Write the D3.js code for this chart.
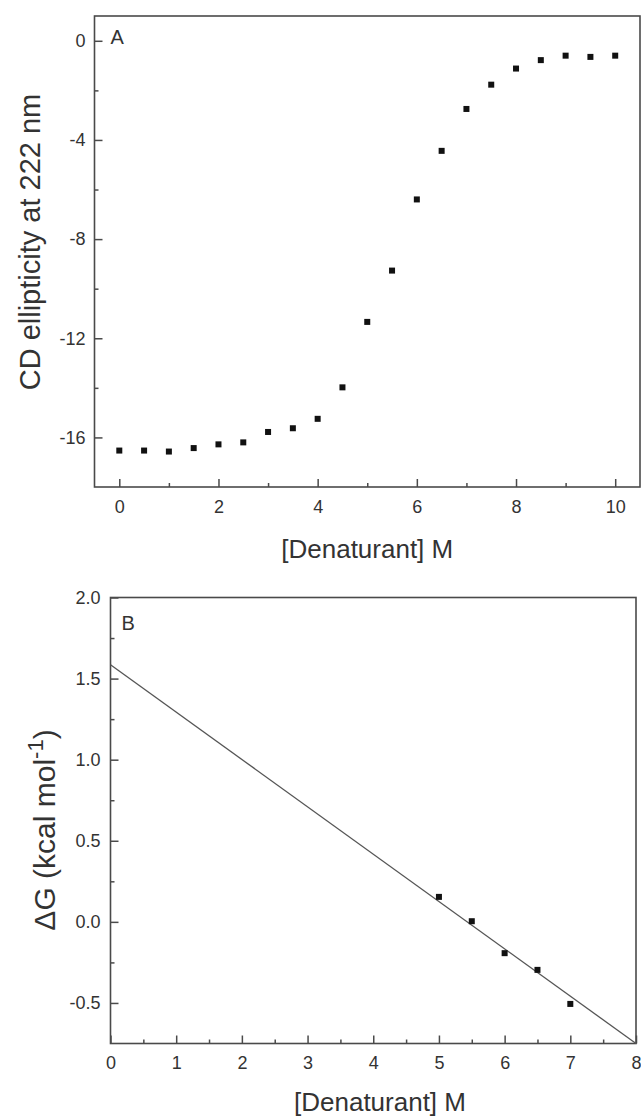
<!DOCTYPE html>
<html>
<head>
<meta charset="utf-8">
<script src="https://cdn.jsdelivr.net/npm/d3@7"></script>
<style>
  html, body { margin: 0; padding: 0; background: #fff; }
  svg { display: block; font-family: "Liberation Sans", Arial, sans-serif; }
</style>
</head>
<body>
<div id="chart"></div>
<script>
// panel A: denaturation curve
const aConc = [0, 0.5, 1, 1.5, 2, 2.5, 3, 3.5, 4, 4.5, 5, 5.5, 6, 6.5, 7, 7.5, 8, 8.5, 9, 9.5, 10];
const aEllip = [-16.53, -16.53, -16.57, -16.43, -16.28, -16.2, -15.78, -15.63, -15.25, -13.98,
                -11.34, -9.27, -6.4, -4.44, -2.75, -1.77, -1.12, -0.78, -0.6, -0.65, -0.6];
const aXTicks = [0, 2, 4, 6, 8, 10];
const aYTicks = [0, -4, -8, -12, -16];

// panel B: free energy vs denaturant
const bConc = [5, 5.5, 6, 6.5, 7];
const bDeltaG = [0.154, 0.004, -0.193, -0.296, -0.506];
const fitConc = [0, 8];
const fitDeltaG = [1.585, -0.75];
const bXTicks = [0, 1, 2, 3, 4, 5, 6, 7, 8];
const bYTicks = [-0.5, 0.0, 0.5, 1.0, 1.5, 2.0];

const W = 641, H = 1119;
const ink = "#333";
const frameColor = "#4a4a4a";

const svg = d3.select("#chart").append("svg")
    .attr("width", W)
    .attr("height", H)
    .attr("viewBox", [0, 0, W, H]);

// draws one Origin-style panel (box frame, inward ticks)
function panel(opt) {
    const x = d3.scaleLinear().domain(opt.xDomain).range(opt.xRange);
    const y = d3.scaleLinear().domain(opt.yDomain).range(opt.yRange);
    const g = svg.append("g");

    // minor ticks
    g.append("g")
        .attr("transform", `translate(0,${opt.yRange[0]})`)
        .call(d3.axisBottom(x).tickValues(opt.xMinor).tickSize(-4).tickFormat(""))
        .call(a => a.select(".domain").remove());
    g.append("g")
        .attr("transform", `translate(${opt.xRange[0]},0)`)
        .call(d3.axisLeft(y).tickValues(opt.yMinor).tickSize(-4).tickFormat(""))
        .call(a => a.select(".domain").remove());

    // major ticks + labels
    const xAxis = g.append("g")
        .attr("transform", `translate(0,${opt.yRange[0]})`)
        .call(d3.axisBottom(x).tickValues(opt.xTicks).tickSize(-8).tickPadding(13).tickFormat(opt.xFormat));
    const yAxis = g.append("g")
        .attr("transform", `translate(${opt.xRange[0]},0)`)
        .call(d3.axisLeft(y).tickValues(opt.yTicks).tickSize(-8).tickPadding(opt.yPad).tickFormat(opt.yFormat));
    [xAxis, yAxis].forEach(a => {
        a.select(".domain").remove();
        a.selectAll("text").attr("font-size", 18).attr("fill", ink)
            .attr("font-family", "'Liberation Sans', Arial, sans-serif");
    });
    g.selectAll(".tick line").attr("stroke", frameColor).attr("stroke-width", 1.5);

    // frame
    g.append("rect")
        .attr("x", opt.xRange[0])
        .attr("y", opt.yRange[1])
        .attr("width", opt.xRange[1] - opt.xRange[0])
        .attr("height", opt.yRange[0] - opt.yRange[1])
        .attr("fill", "none")
        .attr("stroke", frameColor)
        .attr("stroke-width", 1.6);

    // panel letter
    g.append("text")
        .attr("x", opt.xRange[0] + opt.letterDx)
        .attr("y", opt.yRange[1] + opt.letterDy)
        .attr("font-size", 20)
        .attr("fill", ink)
        .text(opt.letter);

    return {x, y, g};
}

// ---------- panel A ----------
const A = panel({
    xDomain: [-0.5, 10.5], xRange: [94.5, 640],
    yDomain: [-18, 1], yRange: [487, 16],
    xTicks: aXTicks, xMinor: [1, 3, 5, 7, 9],
    yTicks: aYTicks, yMinor: [-2, -6, -10, -14],
    xFormat: d3.format("d"), yFormat: d => d3.format("d")(d).replace("−", "-"),
    yPad: 9, letter: "A", letterDx: 16, letterDy: 28
});

const sq = 6;
A.g.append("g")
    .selectAll("rect")
    .data(aConc.map((c, i) => [c, aEllip[i]]))
    .join("rect")
    .attr("x", d => A.x(d[0]) - sq / 2)
    .attr("y", d => A.y(d[1]) - sq / 2)
    .attr("width", sq)
    .attr("height", sq)
    .attr("fill", "#111");

A.g.append("text")
    .attr("x", (94.5 + 640) / 2)
    .attr("y", 558)
    .attr("text-anchor", "middle")
    .attr("font-size", 26)
    .attr("fill", ink)
    .text("[Denaturant] M");

A.g.append("text")
    .attr("transform", "translate(40,242) rotate(-90)")
    .attr("text-anchor", "middle")
    .attr("font-size", 29)
    .attr("fill", ink)
    .text("CD ellipticity at 222 nm");

// ---------- panel B ----------
const B = panel({
    xDomain: [0, 8], xRange: [110.5, 636],
    yDomain: [-0.75, 2.0], yRange: [1043.5, 597.5],
    xTicks: bXTicks, xMinor: d3.range(0.5, 8, 1),
    yTicks: bYTicks, yMinor: [-0.25, 0.25, 0.75, 1.25, 1.75],
    xFormat: d3.format("d"), yFormat: d => d3.format(".1f")(d).replace("−", "-"),
    yPad: 10, letter: "B", letterDx: 11, letterDy: 32
});

const line = d3.line().x(d => B.x(d[0])).y(d => B.y(d[1]));
B.g.append("path")
    .datum(fitConc.map((c, i) => [c, fitDeltaG[i]]))
    .attr("d", line)
    .attr("fill", "none")
    .attr("stroke", "#555")
    .attr("stroke-width", 1.3);

B.g.append("g")
    .selectAll("rect")
    .data(bConc.map((c, i) => [c, bDeltaG[i]]))
    .join("rect")
    .attr("x", d => B.x(d[0]) - sq / 2)
    .attr("y", d => B.y(d[1]) - sq / 2)
    .attr("width", sq)
    .attr("height", sq)
    .attr("fill", "#111");

B.g.append("text")
    .attr("x", 380)
    .attr("y", 1111)
    .attr("text-anchor", "middle")
    .attr("font-size", 26)
    .attr("fill", ink)
    .text("[Denaturant] M");

const bLabel = B.g.append("text")
    .attr("transform", "translate(55,830) rotate(-90)")
    .attr("text-anchor", "middle")
    .attr("font-size", 30)
    .attr("fill", ink);
bLabel.append("tspan").text("\u0394G (kcal mol");
bLabel.append("tspan").attr("font-size", 22).attr("dy", -12).text("-1");
bLabel.append("tspan").attr("dy", 12).text(")");
</script>
</body>
</html>
